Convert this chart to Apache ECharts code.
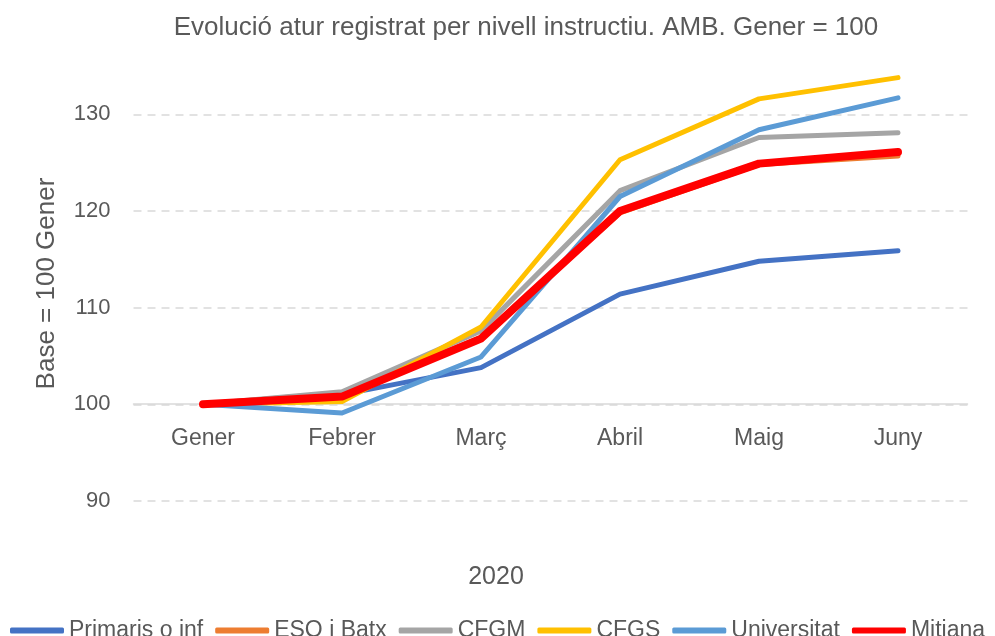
<html>
<head>
<meta charset="utf-8">
<script src="https://cdn.jsdelivr.net/npm/echarts@6/dist/echarts.min.js"></script>
<style>
body{
	margin:0;
	background-color:#ffffff;
}
#chart{
	width:995px;
	height:636px;
}
</style>
</head>
<body>
<div id="chart"></div>
<script type="text/javascript">
var months = ['Gener','Febrer','Març','Abril','Maig','Juny'];
var primaris = [100, 101.0, 103.8, 111.4, 114.8, 115.9];
var eso = [100, 101.2, 106.9, 119.8, 124.8, 125.7];
var cfgm = [100, 101.3, 107.6, 122.1, 127.6, 128.1];
var cfgs = [100, 100.3, 108.0, 125.3, 131.6, 133.8];
var universitat = [100, 99.1, 104.9, 121.5, 128.4, 131.7];
var mitjana = [100, 100.8, 106.8, 120.0, 124.9, 126.1];
var yTicks = [90, 100, 110, 120, 130];

var txt = '#595959';
var font = 'Liberation Sans';

function line(name, data, color, width){
	return {
		name: name,
		type: 'line',
		data: data,
		symbol: 'none',
		lineStyle: {color: color, width: width, cap: 'round', join: 'round'},
		itemStyle: {color: color}
	};
}

var chart = echarts.init(document.getElementById('chart'));
chart.setOption({
	animation: false,
	textStyle: {fontFamily: font},
	title: [{
		text: 'Evolució atur registrat per nivell instructiu. AMB. Gener = 100',
		left: 521,
		top: 10,
		textAlign: 'center',
		textStyle: {color: txt, fontSize: 26, fontWeight: 'normal', fontFamily: font}
	}, {
		text: '2020',
		left: 491,
		top: 560,
		textAlign: 'center',
		textStyle: {color: txt, fontSize: 25, fontWeight: 'normal', fontFamily: font}
	}],
	legend: {
		left: 5,
		top: 614,
		padding: 5,
		itemWidth: 54,
		itemHeight: 6,
		itemGap: 12,
		icon: 'roundRect',
		textStyle: {color: txt, fontSize: 23, fontFamily: font},
		data: ['Primaris o inf','ESO i Batx','CFGM','CFGS','Universitat','Mitjana']
	},
	grid: {
		left: 133.5,
		right: 27.5,
		top: 66,
		bottom: 135
	},
	xAxis: {
		type: 'category',
		data: months,
		offset: -97,
		axisTick: {show: false},
		axisLine: {lineStyle: {color: '#d9d9d9', width: 1.5}},
		axisLabel: {color: txt, fontSize: 23, margin: 23}
	},
	yAxis: {
		type: 'value',
		min: yTicks[0],
		max: 135,
		interval: 10,
		name: 'Base = 100 Gener',
		nameLocation: 'middle',
		nameGap: 74,
		nameTextStyle: {color: txt, fontSize: 26},
		axisLine: {show: false},
		axisTick: {show: false},
		axisLabel: {color: txt, fontSize: 22, margin: 23, showMaxLabel: false,
			formatter: function(v){ return yTicks.indexOf(v) >= 0 ? v : ''; }},
		splitLine: {showMaxLine: false, lineStyle: {color: '#d9d9d9', type: [8, 6], width: 1.5}}
	},
	series: [
		line('Primaris o inf', primaris, '#4472C4', 5),
		line('ESO i Batx', eso, '#ED7D31', 5),
		line('CFGM', cfgm, '#A5A5A5', 5),
		line('CFGS', cfgs, '#FFC000', 5),
		line('Universitat', universitat, '#5B9BD5', 5),
		line('Mitjana', mitjana, '#FF0000', 8)
	]
});
</script>
</body>
</html>
